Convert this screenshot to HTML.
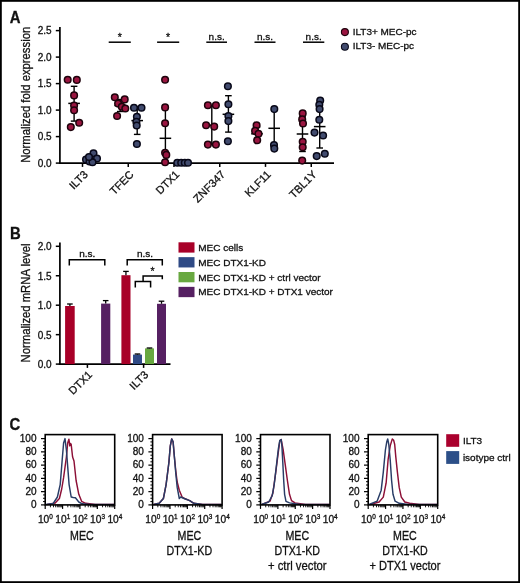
<!DOCTYPE html>
<html><head><meta charset="utf-8"><style>
html,body{margin:0;padding:0;background:#fff;}
svg{display:block;will-change:transform;}
text{font-family:"Liberation Sans", sans-serif;fill:#111;stroke:#111;stroke-width:0.3px;}
</style></head><body>
<svg width="520" height="583" viewBox="0 0 520 583">

<text transform="translate(9.7,22.5) scale(0.93,1)" font-size="16" font-weight="bold">A</text>
<line x1="59.9" y1="27" x2="59.9" y2="163.9" stroke="#000" stroke-width="1.7"/>
<line x1="59" y1="163.1" x2="334" y2="163.1" stroke="#000" stroke-width="1.7"/>
<line x1="55.8" y1="163.10" x2="59.9" y2="163.10" stroke="#000" stroke-width="1.5"/>
<text x="51.6" y="166.90" font-size="10" text-anchor="end">0.0</text>
<line x1="55.8" y1="136.60" x2="59.9" y2="136.60" stroke="#000" stroke-width="1.5"/>
<text x="51.6" y="140.40" font-size="10" text-anchor="end">0.5</text>
<line x1="55.8" y1="110.10" x2="59.9" y2="110.10" stroke="#000" stroke-width="1.5"/>
<text x="51.6" y="113.90" font-size="10" text-anchor="end">1.0</text>
<line x1="55.8" y1="83.60" x2="59.9" y2="83.60" stroke="#000" stroke-width="1.5"/>
<text x="51.6" y="87.40" font-size="10" text-anchor="end">1.5</text>
<line x1="55.8" y1="57.10" x2="59.9" y2="57.10" stroke="#000" stroke-width="1.5"/>
<text x="51.6" y="60.90" font-size="10" text-anchor="end">2.0</text>
<line x1="55.8" y1="30.60" x2="59.9" y2="30.60" stroke="#000" stroke-width="1.5"/>
<text x="51.6" y="34.40" font-size="10" text-anchor="end">2.5</text>
<text transform="translate(29.8,94.8) rotate(-90)" font-size="13" text-anchor="middle" textLength="136" lengthAdjust="spacingAndGlyphs">Normalized fold expression</text>
<line x1="82.50" y1="163.1" x2="82.50" y2="166.90" stroke="#000" stroke-width="1.5"/>
<text transform="translate(88.70,175.10) rotate(-45)" font-size="11" text-anchor="end">ILT3</text>
<line x1="128.25" y1="163.1" x2="128.25" y2="166.90" stroke="#000" stroke-width="1.5"/>
<text transform="translate(134.45,175.10) rotate(-45)" font-size="11" text-anchor="end">TFEC</text>
<line x1="174.00" y1="163.1" x2="174.00" y2="166.90" stroke="#000" stroke-width="1.5"/>
<text transform="translate(180.20,175.10) rotate(-45)" font-size="11" text-anchor="end">DTX1</text>
<line x1="219.75" y1="163.1" x2="219.75" y2="166.90" stroke="#000" stroke-width="1.5"/>
<text transform="translate(225.95,175.10) rotate(-45)" font-size="11" text-anchor="end">ZNF347</text>
<line x1="265.50" y1="163.1" x2="265.50" y2="166.90" stroke="#000" stroke-width="1.5"/>
<text transform="translate(271.70,175.10) rotate(-45)" font-size="11" text-anchor="end">KLF11</text>
<line x1="311.25" y1="163.1" x2="311.25" y2="166.90" stroke="#000" stroke-width="1.5"/>
<text transform="translate(317.45,175.10) rotate(-45)" font-size="11" text-anchor="end">TBL1Y</text>
<line x1="108.7" y1="42.2" x2="130.8" y2="42.2" stroke="#000" stroke-width="1.5"/>
<text x="119.75" y="40.9" font-size="10.5" text-anchor="middle">*</text>
<line x1="157.1" y1="42.2" x2="179.2" y2="42.2" stroke="#000" stroke-width="1.5"/>
<text x="168.15" y="40.9" font-size="10.5" text-anchor="middle">*</text>
<line x1="206.3" y1="42.2" x2="227" y2="42.2" stroke="#000" stroke-width="1.5"/>
<text transform="translate(216.65,39.5) scale(1,0.93)" font-size="10" text-anchor="middle">n.s.</text>
<line x1="254.5" y1="42.2" x2="275.5" y2="42.2" stroke="#000" stroke-width="1.5"/>
<text transform="translate(265.00,39.5) scale(1,0.93)" font-size="10" text-anchor="middle">n.s.</text>
<line x1="303" y1="42.2" x2="324.3" y2="42.2" stroke="#000" stroke-width="1.5"/>
<text transform="translate(313.65,39.5) scale(1,0.93)" font-size="10" text-anchor="middle">n.s.</text>
<line x1="74.1" y1="86.3" x2="74.1" y2="121.1" stroke="#000" stroke-width="1.4"/><line x1="70.8" y1="86.3" x2="77.39999999999999" y2="86.3" stroke="#000" stroke-width="1.4"/><line x1="70.8" y1="121.1" x2="77.39999999999999" y2="121.1" stroke="#000" stroke-width="1.4"/><line x1="68.3" y1="103.4" x2="79.89999999999999" y2="103.4" stroke="#000" stroke-width="1.5"/>
<line x1="91.5" y1="155.5" x2="91.5" y2="161.5" stroke="#000" stroke-width="1.4"/><line x1="88.2" y1="155.5" x2="94.8" y2="155.5" stroke="#000" stroke-width="1.4"/><line x1="88.2" y1="161.5" x2="94.8" y2="161.5" stroke="#000" stroke-width="1.4"/><line x1="85.7" y1="158.5" x2="97.3" y2="158.5" stroke="#000" stroke-width="1.5"/>
<circle cx="67.7" cy="79.8" r="3.3" fill="#9a1540" stroke="#1e030c" stroke-width="1.5"/><circle cx="76.8" cy="79.9" r="3.3" fill="#9a1540" stroke="#1e030c" stroke-width="1.5"/><circle cx="74.1" cy="95.4" r="3.3" fill="#9a1540" stroke="#1e030c" stroke-width="1.5"/><circle cx="74.1" cy="105.5" r="3.3" fill="#9a1540" stroke="#1e030c" stroke-width="1.5"/><circle cx="74.1" cy="110.3" r="3.3" fill="#9a1540" stroke="#1e030c" stroke-width="1.5"/><circle cx="79.2" cy="122.8" r="3.3" fill="#9a1540" stroke="#1e030c" stroke-width="1.5"/><circle cx="70.8" cy="127.1" r="3.3" fill="#9a1540" stroke="#1e030c" stroke-width="1.5"/>
<circle cx="86" cy="159.5" r="3.3" fill="#414b6e" stroke="#080818" stroke-width="1.5"/><circle cx="89.5" cy="161.5" r="3.3" fill="#414b6e" stroke="#080818" stroke-width="1.5"/><circle cx="93.5" cy="153.2" r="3.3" fill="#414b6e" stroke="#080818" stroke-width="1.5"/><circle cx="97" cy="158.5" r="3.3" fill="#414b6e" stroke="#080818" stroke-width="1.5"/><circle cx="92.5" cy="162.2" r="3.3" fill="#414b6e" stroke="#080818" stroke-width="1.5"/><circle cx="89" cy="157" r="3.3" fill="#414b6e" stroke="#080818" stroke-width="1.5"/>
<line x1="120.2" y1="99.5" x2="120.2" y2="111.5" stroke="#000" stroke-width="1.4"/><line x1="116.9" y1="99.5" x2="123.5" y2="99.5" stroke="#000" stroke-width="1.4"/><line x1="116.9" y1="111.5" x2="123.5" y2="111.5" stroke="#000" stroke-width="1.4"/><line x1="114.4" y1="105.5" x2="126.0" y2="105.5" stroke="#000" stroke-width="1.5"/>
<line x1="137.2" y1="106.8" x2="137.2" y2="134.4" stroke="#000" stroke-width="1.4"/><line x1="133.89999999999998" y1="106.8" x2="140.5" y2="106.8" stroke="#000" stroke-width="1.4"/><line x1="133.89999999999998" y1="134.4" x2="140.5" y2="134.4" stroke="#000" stroke-width="1.4"/><line x1="131.39999999999998" y1="120.6" x2="143.0" y2="120.6" stroke="#000" stroke-width="1.5"/>
<circle cx="114.8" cy="97.3" r="3.3" fill="#9a1540" stroke="#1e030c" stroke-width="1.5"/><circle cx="124.7" cy="99.4" r="3.3" fill="#9a1540" stroke="#1e030c" stroke-width="1.5"/><circle cx="118.1" cy="103.6" r="3.3" fill="#9a1540" stroke="#1e030c" stroke-width="1.5"/><circle cx="121.8" cy="106.8" r="3.3" fill="#9a1540" stroke="#1e030c" stroke-width="1.5"/><circle cx="125.3" cy="108.5" r="3.3" fill="#9a1540" stroke="#1e030c" stroke-width="1.5"/><circle cx="117.1" cy="116" r="3.3" fill="#9a1540" stroke="#1e030c" stroke-width="1.5"/>
<circle cx="134" cy="107.7" r="3.3" fill="#414b6e" stroke="#080818" stroke-width="1.5"/><circle cx="141.5" cy="107.7" r="3.3" fill="#414b6e" stroke="#080818" stroke-width="1.5"/><circle cx="136.9" cy="116.7" r="3.3" fill="#414b6e" stroke="#080818" stroke-width="1.5"/><circle cx="136.4" cy="121.9" r="3.3" fill="#414b6e" stroke="#080818" stroke-width="1.5"/><circle cx="136.7" cy="125.5" r="3.3" fill="#414b6e" stroke="#080818" stroke-width="1.5"/><circle cx="136.9" cy="144" r="3.3" fill="#414b6e" stroke="#080818" stroke-width="1.5"/>
<line x1="165.4" y1="107.5" x2="165.4" y2="162.5" stroke="#000" stroke-width="1.4"/><line x1="162.1" y1="107.5" x2="168.70000000000002" y2="107.5" stroke="#000" stroke-width="1.4"/><line x1="162.1" y1="162.5" x2="168.70000000000002" y2="162.5" stroke="#000" stroke-width="1.4"/><line x1="159.6" y1="138.3" x2="171.20000000000002" y2="138.3" stroke="#000" stroke-width="1.5"/>
<line x1="183" y1="162.5" x2="183" y2="163" stroke="#000" stroke-width="1.4"/><line x1="179.7" y1="162.5" x2="186.3" y2="162.5" stroke="#000" stroke-width="1.4"/><line x1="179.7" y1="163" x2="186.3" y2="163" stroke="#000" stroke-width="1.4"/><line x1="177.2" y1="162.7" x2="188.8" y2="162.7" stroke="#000" stroke-width="1.5"/>
<circle cx="165.1" cy="79.8" r="3.3" fill="#9a1540" stroke="#1e030c" stroke-width="1.5"/><circle cx="165.1" cy="107.4" r="3.3" fill="#9a1540" stroke="#1e030c" stroke-width="1.5"/><circle cx="165.1" cy="123.2" r="3.3" fill="#9a1540" stroke="#1e030c" stroke-width="1.5"/><circle cx="165.1" cy="152.7" r="3.3" fill="#9a1540" stroke="#1e030c" stroke-width="1.5"/><circle cx="166.3" cy="154.9" r="3.3" fill="#9a1540" stroke="#1e030c" stroke-width="1.5"/><circle cx="165.1" cy="162.3" r="3.3" fill="#9a1540" stroke="#1e030c" stroke-width="1.5"/>
<circle cx="177.3" cy="162.7" r="3.3" fill="#414b6e" stroke="#080818" stroke-width="1.5"/><circle cx="181.2" cy="162.7" r="3.3" fill="#414b6e" stroke="#080818" stroke-width="1.5"/><circle cx="184.8" cy="162.7" r="3.3" fill="#414b6e" stroke="#080818" stroke-width="1.5"/><circle cx="188" cy="162.7" r="3.3" fill="#414b6e" stroke="#080818" stroke-width="1.5"/>
<line x1="211.8" y1="105.5" x2="211.8" y2="144.5" stroke="#000" stroke-width="1.4"/><line x1="208.5" y1="105.5" x2="215.10000000000002" y2="105.5" stroke="#000" stroke-width="1.4"/><line x1="208.5" y1="144.5" x2="215.10000000000002" y2="144.5" stroke="#000" stroke-width="1.4"/><line x1="206.0" y1="125.2" x2="217.60000000000002" y2="125.2" stroke="#000" stroke-width="1.5"/>
<line x1="228.4" y1="95.7" x2="228.4" y2="132.1" stroke="#000" stroke-width="1.4"/><line x1="225.1" y1="95.7" x2="231.70000000000002" y2="95.7" stroke="#000" stroke-width="1.4"/><line x1="225.1" y1="132.1" x2="231.70000000000002" y2="132.1" stroke="#000" stroke-width="1.4"/><line x1="222.6" y1="114.3" x2="234.20000000000002" y2="114.3" stroke="#000" stroke-width="1.5"/>
<circle cx="207.9" cy="105.2" r="3.3" fill="#9a1540" stroke="#1e030c" stroke-width="1.5"/><circle cx="215.9" cy="105.2" r="3.3" fill="#9a1540" stroke="#1e030c" stroke-width="1.5"/><circle cx="206.1" cy="125.2" r="3.3" fill="#9a1540" stroke="#1e030c" stroke-width="1.5"/><circle cx="214.2" cy="126.6" r="3.3" fill="#9a1540" stroke="#1e030c" stroke-width="1.5"/><circle cx="207.9" cy="144.6" r="3.3" fill="#9a1540" stroke="#1e030c" stroke-width="1.5"/><circle cx="215.9" cy="144.6" r="3.3" fill="#9a1540" stroke="#1e030c" stroke-width="1.5"/>
<circle cx="227.9" cy="86.3" r="3.3" fill="#414b6e" stroke="#080818" stroke-width="1.5"/><circle cx="228.4" cy="104.3" r="3.3" fill="#414b6e" stroke="#080818" stroke-width="1.5"/><circle cx="228.4" cy="116" r="3.3" fill="#414b6e" stroke="#080818" stroke-width="1.5"/><circle cx="228.4" cy="121.1" r="3.3" fill="#414b6e" stroke="#080818" stroke-width="1.5"/><circle cx="227.9" cy="141.2" r="3.3" fill="#414b6e" stroke="#080818" stroke-width="1.5"/>
<line x1="257" y1="127" x2="257" y2="140" stroke="#000" stroke-width="1.4"/><line x1="253.7" y1="127" x2="260.3" y2="127" stroke="#000" stroke-width="1.4"/><line x1="253.7" y1="140" x2="260.3" y2="140" stroke="#000" stroke-width="1.4"/><line x1="251.2" y1="133.8" x2="262.8" y2="133.8" stroke="#000" stroke-width="1.5"/>
<line x1="274.2" y1="109.1" x2="274.2" y2="147" stroke="#000" stroke-width="1.4"/><line x1="270.9" y1="109.1" x2="277.5" y2="109.1" stroke="#000" stroke-width="1.4"/><line x1="270.9" y1="147" x2="277.5" y2="147" stroke="#000" stroke-width="1.4"/><line x1="268.4" y1="128.3" x2="280.0" y2="128.3" stroke="#000" stroke-width="1.5"/>
<circle cx="256.6" cy="125.2" r="3.3" fill="#9a1540" stroke="#1e030c" stroke-width="1.5"/><circle cx="255.1" cy="130.9" r="3.3" fill="#9a1540" stroke="#1e030c" stroke-width="1.5"/><circle cx="258.5" cy="133.8" r="3.3" fill="#9a1540" stroke="#1e030c" stroke-width="1.5"/><circle cx="257.2" cy="140.3" r="3.3" fill="#9a1540" stroke="#1e030c" stroke-width="1.5"/>
<circle cx="274.3" cy="109.1" r="3.3" fill="#414b6e" stroke="#080818" stroke-width="1.5"/><circle cx="274" cy="145" r="3.3" fill="#414b6e" stroke="#080818" stroke-width="1.5"/><circle cx="274.3" cy="148.6" r="3.3" fill="#414b6e" stroke="#080818" stroke-width="1.5"/>
<line x1="302.5" y1="116.5" x2="302.5" y2="151.5" stroke="#000" stroke-width="1.4"/><line x1="299.2" y1="116.5" x2="305.8" y2="116.5" stroke="#000" stroke-width="1.4"/><line x1="299.2" y1="151.5" x2="305.8" y2="151.5" stroke="#000" stroke-width="1.4"/><line x1="296.7" y1="134" x2="308.3" y2="134" stroke="#000" stroke-width="1.5"/>
<line x1="319.7" y1="105" x2="319.7" y2="148" stroke="#000" stroke-width="1.4"/><line x1="316.4" y1="105" x2="323.0" y2="105" stroke="#000" stroke-width="1.4"/><line x1="316.4" y1="148" x2="323.0" y2="148" stroke="#000" stroke-width="1.4"/><line x1="313.9" y1="126.6" x2="325.5" y2="126.6" stroke="#000" stroke-width="1.5"/>
<circle cx="302.7" cy="113.4" r="3.3" fill="#9a1540" stroke="#1e030c" stroke-width="1.5"/><circle cx="302.2" cy="119.4" r="3.3" fill="#9a1540" stroke="#1e030c" stroke-width="1.5"/><circle cx="303" cy="123.5" r="3.3" fill="#9a1540" stroke="#1e030c" stroke-width="1.5"/><circle cx="302.7" cy="141.7" r="3.3" fill="#9a1540" stroke="#1e030c" stroke-width="1.5"/><circle cx="302.7" cy="147.2" r="3.3" fill="#9a1540" stroke="#1e030c" stroke-width="1.5"/><circle cx="302.2" cy="160.6" r="3.3" fill="#9a1540" stroke="#1e030c" stroke-width="1.5"/>
<circle cx="320.2" cy="100.5" r="3.3" fill="#414b6e" stroke="#080818" stroke-width="1.5"/><circle cx="319.3" cy="104.8" r="3.3" fill="#414b6e" stroke="#080818" stroke-width="1.5"/><circle cx="319.6" cy="109.1" r="3.3" fill="#414b6e" stroke="#080818" stroke-width="1.5"/><circle cx="319.3" cy="119.7" r="3.3" fill="#414b6e" stroke="#080818" stroke-width="1.5"/><circle cx="314.5" cy="132.6" r="3.3" fill="#414b6e" stroke="#080818" stroke-width="1.5"/><circle cx="323.1" cy="135.5" r="3.3" fill="#414b6e" stroke="#080818" stroke-width="1.5"/><circle cx="316.7" cy="156.1" r="3.3" fill="#414b6e" stroke="#080818" stroke-width="1.5"/><circle cx="324.8" cy="153.7" r="3.3" fill="#414b6e" stroke="#080818" stroke-width="1.5"/>
<circle cx="344.9" cy="32.1" r="3.5" fill="#9a1540" stroke="#1e030c" stroke-width="1.1"/>
<circle cx="344.9" cy="46.8" r="3.5" fill="#414b6e" stroke="#080818" stroke-width="1.1"/>
<text transform="translate(352.7,34.9) scale(1,0.93)" font-size="10">ILT3+ MEC-pc</text>
<text transform="translate(352.7,49.1) scale(1,0.93)" font-size="10">ILT3- MEC-pc</text>
<text transform="translate(9.9,238.5) scale(0.93,1)" font-size="16" font-weight="bold">B</text>
<line x1="59.9" y1="242.6" x2="59.9" y2="364.90000000000003" stroke="#000" stroke-width="1.7"/>
<line x1="58.8" y1="364.1" x2="170.5" y2="364.1" stroke="#000" stroke-width="1.7"/>
<line x1="55.8" y1="364.10" x2="59.9" y2="364.10" stroke="#000" stroke-width="1.5"/>
<text x="51.6" y="368.20" font-size="10" text-anchor="end">0.0</text>
<line x1="55.8" y1="334.65" x2="59.9" y2="334.65" stroke="#000" stroke-width="1.5"/>
<text x="51.6" y="338.75" font-size="10" text-anchor="end">0.5</text>
<line x1="55.8" y1="305.20" x2="59.9" y2="305.20" stroke="#000" stroke-width="1.5"/>
<text x="51.6" y="309.30" font-size="10" text-anchor="end">1.0</text>
<line x1="55.8" y1="275.75" x2="59.9" y2="275.75" stroke="#000" stroke-width="1.5"/>
<text x="51.6" y="279.85" font-size="10" text-anchor="end">1.5</text>
<line x1="55.8" y1="246.30" x2="59.9" y2="246.30" stroke="#000" stroke-width="1.5"/>
<text x="51.6" y="250.40" font-size="10" text-anchor="end">2.0</text>
<text transform="translate(29.9,302.9) rotate(-90)" font-size="13" text-anchor="middle" textLength="119" lengthAdjust="spacingAndGlyphs">Normalized mRNA level</text>
<line x1="87.4" y1="364.1" x2="87.4" y2="367.90" stroke="#000" stroke-width="1.5"/>
<text transform="translate(92.90,375.40) rotate(-45)" font-size="11" text-anchor="end">DTX1</text>
<line x1="143.6" y1="364.1" x2="143.6" y2="367.90" stroke="#000" stroke-width="1.5"/>
<text transform="translate(149.10,375.40) rotate(-45)" font-size="11" text-anchor="end">ILT3</text>
<rect x="65.1" y="306" width="9.600000000000009" height="58.10000000000002" fill="#a80028"/><line x1="69.9" y1="304.0" x2="69.9" y2="306" stroke="#000" stroke-width="1.3"/><line x1="67.10000000000001" y1="304.0" x2="72.7" y2="304.0" stroke="#000" stroke-width="1.3"/>
<rect x="101.1" y="303.6" width="9.200000000000003" height="60.5" fill="#562062"/><line x1="105.69999999999999" y1="300.6" x2="105.69999999999999" y2="303.6" stroke="#000" stroke-width="1.3"/><line x1="102.89999999999999" y1="300.6" x2="108.49999999999999" y2="300.6" stroke="#000" stroke-width="1.3"/>
<rect x="121.4" y="275.2" width="9.099999999999994" height="88.90000000000003" fill="#a80028"/><line x1="125.95" y1="271.4" x2="125.95" y2="275.2" stroke="#000" stroke-width="1.3"/><line x1="123.15" y1="271.4" x2="128.75" y2="271.4" stroke="#000" stroke-width="1.3"/>
<rect x="133" y="354.6" width="9" height="9.5" fill="#2f4a85"/><line x1="137.5" y1="354" x2="137.5" y2="354.6" stroke="#000" stroke-width="1.3"/><line x1="134.7" y1="354" x2="140.3" y2="354" stroke="#000" stroke-width="1.3"/>
<rect x="145" y="348.4" width="9" height="15.700000000000045" fill="#68a840"/><line x1="149.5" y1="348" x2="149.5" y2="348.4" stroke="#000" stroke-width="1.3"/><line x1="146.7" y1="348" x2="152.3" y2="348" stroke="#000" stroke-width="1.3"/>
<rect x="157" y="303.8" width="9" height="60.30000000000001" fill="#562062"/><line x1="161.5" y1="301.2" x2="161.5" y2="303.8" stroke="#000" stroke-width="1.3"/><line x1="158.7" y1="301.2" x2="164.3" y2="301.2" stroke="#000" stroke-width="1.3"/>
<path d="M69.3 265.4 V259.8 H104.8 V265.4" fill="none" stroke="#000" stroke-width="1.5"/>
<path d="M127.2 265.4 V259.8 H162.3 V265.4" fill="none" stroke="#000" stroke-width="1.5"/>
<text transform="translate(87.2,256.8) scale(1,0.93)" font-size="10" text-anchor="middle">n.s.</text>
<text transform="translate(145,256.8) scale(1,0.93)" font-size="10" text-anchor="middle">n.s.</text>
<path d="M135.3 287.4 V281.6 H150.6 V287.4" fill="none" stroke="#000" stroke-width="1.5"/>
<path d="M143.1 281.6 V276.1 H162.3 V279.2" fill="none" stroke="#000" stroke-width="1.5"/>
<text x="152.5" y="274.8" font-size="10.5" text-anchor="middle">*</text>
<rect x="178.5" y="242.30" width="16" height="10.3" fill="#a80028"/>
<text transform="translate(198.3,250.80) scale(1,0.92)" font-size="10">MEC cells</text>
<rect x="178.5" y="257.15" width="16" height="10.3" fill="#2f4a85"/>
<text transform="translate(198.3,265.65) scale(1,0.92)" font-size="10">MEC DTX1-KD</text>
<rect x="178.5" y="272.00" width="16" height="10.3" fill="#68a840"/>
<text transform="translate(198.3,280.50) scale(1,0.92)" font-size="10">MEC DTX1-KD + ctrl vector</text>
<rect x="178.5" y="286.85" width="16" height="10.3" fill="#562062"/>
<text transform="translate(198.3,295.35) scale(1,0.92)" font-size="10">MEC DTX1-KD + DTX1 vector</text>
<text transform="translate(9.5,430.2) scale(0.93,1)" font-size="16" font-weight="bold">C</text>
<polyline points="47.20,504.50 55.20,503.00 59.40,498.50 61.70,489.00 63.60,477.70 66.40,457.00 67.70,443.00 68.90,439.20 69.80,445.90 70.50,443.50 71.20,444.50 72.60,457.00 74.00,461.00 76.10,480.50 78.80,494.30 81.60,501.30 85.70,503.30 95.20,504.50 114.20,504.50" fill="none" stroke="#8c0f36" stroke-width="1.45" stroke-linejoin="round"/>
<polyline points="45.70,504.50 53.20,503.50 57.40,497.00 60.20,484.60 62.20,459.70 63.60,443.00 65.00,438.60 66.40,450.00 67.70,466.60 69.10,484.60 71.20,497.00 73.20,497.50 75.40,497.80 78.80,502.00 82.20,503.80 90.20,504.50 114.20,504.50" fill="none" stroke="#283c66" stroke-width="1.45" stroke-linejoin="round"/>
<rect x="45.2" y="434.6" width="69.5" height="70.29999999999995" fill="none" stroke="#000" stroke-width="1.6"/>
<line x1="41.0" y1="504.90" x2="45.2" y2="504.90" stroke="#000" stroke-width="1.2"/>
<text x="36.50" y="508.10" font-size="10" text-anchor="end">0</text>
<line x1="43.0" y1="501.58" x2="45.2" y2="501.58" stroke="#000" stroke-width="1"/>
<line x1="43.0" y1="498.27" x2="45.2" y2="498.27" stroke="#000" stroke-width="1"/>
<line x1="43.0" y1="494.95" x2="45.2" y2="494.95" stroke="#000" stroke-width="1"/>
<line x1="41.0" y1="491.64" x2="45.2" y2="491.64" stroke="#000" stroke-width="1.2"/>
<text x="36.50" y="494.84" font-size="10" text-anchor="end">20</text>
<line x1="43.0" y1="488.32" x2="45.2" y2="488.32" stroke="#000" stroke-width="1"/>
<line x1="43.0" y1="485.01" x2="45.2" y2="485.01" stroke="#000" stroke-width="1"/>
<line x1="43.0" y1="481.69" x2="45.2" y2="481.69" stroke="#000" stroke-width="1"/>
<line x1="41.0" y1="478.38" x2="45.2" y2="478.38" stroke="#000" stroke-width="1.2"/>
<text x="36.50" y="481.58" font-size="10" text-anchor="end">40</text>
<line x1="43.0" y1="475.06" x2="45.2" y2="475.06" stroke="#000" stroke-width="1"/>
<line x1="43.0" y1="471.75" x2="45.2" y2="471.75" stroke="#000" stroke-width="1"/>
<line x1="43.0" y1="468.44" x2="45.2" y2="468.44" stroke="#000" stroke-width="1"/>
<line x1="41.0" y1="465.12" x2="45.2" y2="465.12" stroke="#000" stroke-width="1.2"/>
<text x="36.50" y="468.32" font-size="10" text-anchor="end">60</text>
<line x1="43.0" y1="461.81" x2="45.2" y2="461.81" stroke="#000" stroke-width="1"/>
<line x1="43.0" y1="458.49" x2="45.2" y2="458.49" stroke="#000" stroke-width="1"/>
<line x1="43.0" y1="455.18" x2="45.2" y2="455.18" stroke="#000" stroke-width="1"/>
<line x1="41.0" y1="451.86" x2="45.2" y2="451.86" stroke="#000" stroke-width="1.2"/>
<text x="36.50" y="455.06" font-size="10" text-anchor="end">80</text>
<line x1="43.0" y1="448.55" x2="45.2" y2="448.55" stroke="#000" stroke-width="1"/>
<line x1="43.0" y1="445.23" x2="45.2" y2="445.23" stroke="#000" stroke-width="1"/>
<line x1="43.0" y1="441.92" x2="45.2" y2="441.92" stroke="#000" stroke-width="1"/>
<line x1="41.0" y1="438.60" x2="45.2" y2="438.60" stroke="#000" stroke-width="1.2"/>
<text x="36.50" y="441.80" font-size="10" text-anchor="end">100</text>
<line x1="45.20" y1="504.9" x2="45.20" y2="508.9" stroke="#000" stroke-width="1.2"/>
<line x1="50.43" y1="504.9" x2="50.43" y2="507.29999999999995" stroke="#000" stroke-width="0.9"/>
<line x1="53.49" y1="504.9" x2="53.49" y2="507.29999999999995" stroke="#000" stroke-width="0.9"/>
<line x1="55.66" y1="504.9" x2="55.66" y2="507.29999999999995" stroke="#000" stroke-width="0.9"/>
<line x1="57.34" y1="504.9" x2="57.34" y2="507.29999999999995" stroke="#000" stroke-width="0.9"/>
<line x1="58.72" y1="504.9" x2="58.72" y2="507.29999999999995" stroke="#000" stroke-width="0.9"/>
<line x1="59.88" y1="504.9" x2="59.88" y2="507.29999999999995" stroke="#000" stroke-width="0.9"/>
<line x1="60.89" y1="504.9" x2="60.89" y2="507.29999999999995" stroke="#000" stroke-width="0.9"/>
<line x1="61.78" y1="504.9" x2="61.78" y2="507.29999999999995" stroke="#000" stroke-width="0.9"/>
<line x1="62.58" y1="504.9" x2="62.58" y2="508.9" stroke="#000" stroke-width="1.2"/>
<line x1="67.81" y1="504.9" x2="67.81" y2="507.29999999999995" stroke="#000" stroke-width="0.9"/>
<line x1="70.86" y1="504.9" x2="70.86" y2="507.29999999999995" stroke="#000" stroke-width="0.9"/>
<line x1="73.04" y1="504.9" x2="73.04" y2="507.29999999999995" stroke="#000" stroke-width="0.9"/>
<line x1="74.72" y1="504.9" x2="74.72" y2="507.29999999999995" stroke="#000" stroke-width="0.9"/>
<line x1="76.10" y1="504.9" x2="76.10" y2="507.29999999999995" stroke="#000" stroke-width="0.9"/>
<line x1="77.26" y1="504.9" x2="77.26" y2="507.29999999999995" stroke="#000" stroke-width="0.9"/>
<line x1="78.27" y1="504.9" x2="78.27" y2="507.29999999999995" stroke="#000" stroke-width="0.9"/>
<line x1="79.15" y1="504.9" x2="79.15" y2="507.29999999999995" stroke="#000" stroke-width="0.9"/>
<line x1="79.95" y1="504.9" x2="79.95" y2="508.9" stroke="#000" stroke-width="1.2"/>
<line x1="85.18" y1="504.9" x2="85.18" y2="507.29999999999995" stroke="#000" stroke-width="0.9"/>
<line x1="88.24" y1="504.9" x2="88.24" y2="507.29999999999995" stroke="#000" stroke-width="0.9"/>
<line x1="90.41" y1="504.9" x2="90.41" y2="507.29999999999995" stroke="#000" stroke-width="0.9"/>
<line x1="92.09" y1="504.9" x2="92.09" y2="507.29999999999995" stroke="#000" stroke-width="0.9"/>
<line x1="93.47" y1="504.9" x2="93.47" y2="507.29999999999995" stroke="#000" stroke-width="0.9"/>
<line x1="94.63" y1="504.9" x2="94.63" y2="507.29999999999995" stroke="#000" stroke-width="0.9"/>
<line x1="95.64" y1="504.9" x2="95.64" y2="507.29999999999995" stroke="#000" stroke-width="0.9"/>
<line x1="96.53" y1="504.9" x2="96.53" y2="507.29999999999995" stroke="#000" stroke-width="0.9"/>
<line x1="97.33" y1="504.9" x2="97.33" y2="508.9" stroke="#000" stroke-width="1.2"/>
<line x1="102.56" y1="504.9" x2="102.56" y2="507.29999999999995" stroke="#000" stroke-width="0.9"/>
<line x1="105.61" y1="504.9" x2="105.61" y2="507.29999999999995" stroke="#000" stroke-width="0.9"/>
<line x1="107.79" y1="504.9" x2="107.79" y2="507.29999999999995" stroke="#000" stroke-width="0.9"/>
<line x1="109.47" y1="504.9" x2="109.47" y2="507.29999999999995" stroke="#000" stroke-width="0.9"/>
<line x1="110.85" y1="504.9" x2="110.85" y2="507.29999999999995" stroke="#000" stroke-width="0.9"/>
<line x1="112.01" y1="504.9" x2="112.01" y2="507.29999999999995" stroke="#000" stroke-width="0.9"/>
<line x1="113.02" y1="504.9" x2="113.02" y2="507.29999999999995" stroke="#000" stroke-width="0.9"/>
<line x1="113.90" y1="504.9" x2="113.90" y2="507.29999999999995" stroke="#000" stroke-width="0.9"/>
<line x1="114.70" y1="504.9" x2="114.70" y2="508.9" stroke="#000" stroke-width="1.2"/>
<text x="45.40" y="522.8" font-size="10.2" text-anchor="middle">10<tspan font-size="6.4" dy="-4.2">0</tspan></text>
<text x="62.78" y="522.8" font-size="10.2" text-anchor="middle">10<tspan font-size="6.4" dy="-4.2">1</tspan></text>
<text x="80.15" y="522.8" font-size="10.2" text-anchor="middle">10<tspan font-size="6.4" dy="-4.2">2</tspan></text>
<text x="97.53" y="522.8" font-size="10.2" text-anchor="middle">10<tspan font-size="6.4" dy="-4.2">3</tspan></text>
<text x="114.90" y="522.8" font-size="10.2" text-anchor="middle">10<tspan font-size="6.4" dy="-4.2">4</tspan></text>
<polyline points="153.60,504.50 159.20,503.30 163.40,498.50 166.10,484.60 168.90,462.50 170.30,445.90 171.70,438.90 173.10,441.70 174.40,457.00 175.80,471.00 177.20,482.00 179.30,490.20 182.10,497.10 184.60,498.50 189.70,500.60 193.80,503.30 202.60,504.50 221.60,504.50" fill="none" stroke="#8c0f36" stroke-width="1.45" stroke-linejoin="round"/>
<polyline points="153.60,504.50 159.20,503.30 163.40,498.50 166.10,484.60 168.90,462.50 170.30,445.90 171.70,438.90 173.10,441.70 174.40,457.00 175.80,473.50 177.20,487.40 179.30,498.50 180.70,497.00 184.10,498.50 189.70,500.60 193.80,503.30 202.60,504.50 221.60,504.50" fill="none" stroke="#283c66" stroke-width="1.45" stroke-linejoin="round"/>
<rect x="152.6" y="434.6" width="69.5" height="70.29999999999995" fill="none" stroke="#000" stroke-width="1.6"/>
<line x1="148.4" y1="504.90" x2="152.6" y2="504.90" stroke="#000" stroke-width="1.2"/>
<text x="143.90" y="508.10" font-size="10" text-anchor="end">0</text>
<line x1="150.4" y1="501.58" x2="152.6" y2="501.58" stroke="#000" stroke-width="1"/>
<line x1="150.4" y1="498.27" x2="152.6" y2="498.27" stroke="#000" stroke-width="1"/>
<line x1="150.4" y1="494.95" x2="152.6" y2="494.95" stroke="#000" stroke-width="1"/>
<line x1="148.4" y1="491.64" x2="152.6" y2="491.64" stroke="#000" stroke-width="1.2"/>
<text x="143.90" y="494.84" font-size="10" text-anchor="end">20</text>
<line x1="150.4" y1="488.32" x2="152.6" y2="488.32" stroke="#000" stroke-width="1"/>
<line x1="150.4" y1="485.01" x2="152.6" y2="485.01" stroke="#000" stroke-width="1"/>
<line x1="150.4" y1="481.69" x2="152.6" y2="481.69" stroke="#000" stroke-width="1"/>
<line x1="148.4" y1="478.38" x2="152.6" y2="478.38" stroke="#000" stroke-width="1.2"/>
<text x="143.90" y="481.58" font-size="10" text-anchor="end">40</text>
<line x1="150.4" y1="475.06" x2="152.6" y2="475.06" stroke="#000" stroke-width="1"/>
<line x1="150.4" y1="471.75" x2="152.6" y2="471.75" stroke="#000" stroke-width="1"/>
<line x1="150.4" y1="468.44" x2="152.6" y2="468.44" stroke="#000" stroke-width="1"/>
<line x1="148.4" y1="465.12" x2="152.6" y2="465.12" stroke="#000" stroke-width="1.2"/>
<text x="143.90" y="468.32" font-size="10" text-anchor="end">60</text>
<line x1="150.4" y1="461.81" x2="152.6" y2="461.81" stroke="#000" stroke-width="1"/>
<line x1="150.4" y1="458.49" x2="152.6" y2="458.49" stroke="#000" stroke-width="1"/>
<line x1="150.4" y1="455.18" x2="152.6" y2="455.18" stroke="#000" stroke-width="1"/>
<line x1="148.4" y1="451.86" x2="152.6" y2="451.86" stroke="#000" stroke-width="1.2"/>
<text x="143.90" y="455.06" font-size="10" text-anchor="end">80</text>
<line x1="150.4" y1="448.55" x2="152.6" y2="448.55" stroke="#000" stroke-width="1"/>
<line x1="150.4" y1="445.23" x2="152.6" y2="445.23" stroke="#000" stroke-width="1"/>
<line x1="150.4" y1="441.92" x2="152.6" y2="441.92" stroke="#000" stroke-width="1"/>
<line x1="148.4" y1="438.60" x2="152.6" y2="438.60" stroke="#000" stroke-width="1.2"/>
<text x="143.90" y="441.80" font-size="10" text-anchor="end">100</text>
<line x1="152.60" y1="504.9" x2="152.60" y2="508.9" stroke="#000" stroke-width="1.2"/>
<line x1="157.83" y1="504.9" x2="157.83" y2="507.29999999999995" stroke="#000" stroke-width="0.9"/>
<line x1="160.89" y1="504.9" x2="160.89" y2="507.29999999999995" stroke="#000" stroke-width="0.9"/>
<line x1="163.06" y1="504.9" x2="163.06" y2="507.29999999999995" stroke="#000" stroke-width="0.9"/>
<line x1="164.74" y1="504.9" x2="164.74" y2="507.29999999999995" stroke="#000" stroke-width="0.9"/>
<line x1="166.12" y1="504.9" x2="166.12" y2="507.29999999999995" stroke="#000" stroke-width="0.9"/>
<line x1="167.28" y1="504.9" x2="167.28" y2="507.29999999999995" stroke="#000" stroke-width="0.9"/>
<line x1="168.29" y1="504.9" x2="168.29" y2="507.29999999999995" stroke="#000" stroke-width="0.9"/>
<line x1="169.18" y1="504.9" x2="169.18" y2="507.29999999999995" stroke="#000" stroke-width="0.9"/>
<line x1="169.97" y1="504.9" x2="169.97" y2="508.9" stroke="#000" stroke-width="1.2"/>
<line x1="175.21" y1="504.9" x2="175.21" y2="507.29999999999995" stroke="#000" stroke-width="0.9"/>
<line x1="178.26" y1="504.9" x2="178.26" y2="507.29999999999995" stroke="#000" stroke-width="0.9"/>
<line x1="180.44" y1="504.9" x2="180.44" y2="507.29999999999995" stroke="#000" stroke-width="0.9"/>
<line x1="182.12" y1="504.9" x2="182.12" y2="507.29999999999995" stroke="#000" stroke-width="0.9"/>
<line x1="183.50" y1="504.9" x2="183.50" y2="507.29999999999995" stroke="#000" stroke-width="0.9"/>
<line x1="184.66" y1="504.9" x2="184.66" y2="507.29999999999995" stroke="#000" stroke-width="0.9"/>
<line x1="185.67" y1="504.9" x2="185.67" y2="507.29999999999995" stroke="#000" stroke-width="0.9"/>
<line x1="186.55" y1="504.9" x2="186.55" y2="507.29999999999995" stroke="#000" stroke-width="0.9"/>
<line x1="187.35" y1="504.9" x2="187.35" y2="508.9" stroke="#000" stroke-width="1.2"/>
<line x1="192.58" y1="504.9" x2="192.58" y2="507.29999999999995" stroke="#000" stroke-width="0.9"/>
<line x1="195.64" y1="504.9" x2="195.64" y2="507.29999999999995" stroke="#000" stroke-width="0.9"/>
<line x1="197.81" y1="504.9" x2="197.81" y2="507.29999999999995" stroke="#000" stroke-width="0.9"/>
<line x1="199.49" y1="504.9" x2="199.49" y2="507.29999999999995" stroke="#000" stroke-width="0.9"/>
<line x1="200.87" y1="504.9" x2="200.87" y2="507.29999999999995" stroke="#000" stroke-width="0.9"/>
<line x1="202.03" y1="504.9" x2="202.03" y2="507.29999999999995" stroke="#000" stroke-width="0.9"/>
<line x1="203.04" y1="504.9" x2="203.04" y2="507.29999999999995" stroke="#000" stroke-width="0.9"/>
<line x1="203.93" y1="504.9" x2="203.93" y2="507.29999999999995" stroke="#000" stroke-width="0.9"/>
<line x1="204.72" y1="504.9" x2="204.72" y2="508.9" stroke="#000" stroke-width="1.2"/>
<line x1="209.96" y1="504.9" x2="209.96" y2="507.29999999999995" stroke="#000" stroke-width="0.9"/>
<line x1="213.01" y1="504.9" x2="213.01" y2="507.29999999999995" stroke="#000" stroke-width="0.9"/>
<line x1="215.19" y1="504.9" x2="215.19" y2="507.29999999999995" stroke="#000" stroke-width="0.9"/>
<line x1="216.87" y1="504.9" x2="216.87" y2="507.29999999999995" stroke="#000" stroke-width="0.9"/>
<line x1="218.25" y1="504.9" x2="218.25" y2="507.29999999999995" stroke="#000" stroke-width="0.9"/>
<line x1="219.41" y1="504.9" x2="219.41" y2="507.29999999999995" stroke="#000" stroke-width="0.9"/>
<line x1="220.42" y1="504.9" x2="220.42" y2="507.29999999999995" stroke="#000" stroke-width="0.9"/>
<line x1="221.30" y1="504.9" x2="221.30" y2="507.29999999999995" stroke="#000" stroke-width="0.9"/>
<line x1="222.10" y1="504.9" x2="222.10" y2="508.9" stroke="#000" stroke-width="1.2"/>
<text x="152.80" y="522.8" font-size="10.2" text-anchor="middle">10<tspan font-size="6.4" dy="-4.2">0</tspan></text>
<text x="170.17" y="522.8" font-size="10.2" text-anchor="middle">10<tspan font-size="6.4" dy="-4.2">1</tspan></text>
<text x="187.55" y="522.8" font-size="10.2" text-anchor="middle">10<tspan font-size="6.4" dy="-4.2">2</tspan></text>
<text x="204.92" y="522.8" font-size="10.2" text-anchor="middle">10<tspan font-size="6.4" dy="-4.2">3</tspan></text>
<text x="222.30" y="522.8" font-size="10.2" text-anchor="middle">10<tspan font-size="6.4" dy="-4.2">4</tspan></text>
<polyline points="262.00,504.50 270.00,501.20 272.90,493.00 275.60,473.50 277.70,457.00 279.80,441.00 281.20,439.60 283.20,450.00 285.30,465.20 287.40,480.50 289.50,494.30 291.50,500.60 295.00,502.90 305.50,504.50 329.50,504.50" fill="none" stroke="#8c0f36" stroke-width="1.45" stroke-linejoin="round"/>
<polyline points="261.50,504.50 268.70,502.00 272.20,495.70 274.20,484.60 276.30,466.60 278.40,448.60 279.80,440.30 281.20,439.60 281.90,445.90 282.80,462.50 283.70,480.50 284.60,494.30 286.00,501.30 289.50,502.90 300.50,504.50 329.50,504.50" fill="none" stroke="#283c66" stroke-width="1.45" stroke-linejoin="round"/>
<rect x="260.5" y="434.6" width="69.5" height="70.29999999999995" fill="none" stroke="#000" stroke-width="1.6"/>
<line x1="256.3" y1="504.90" x2="260.5" y2="504.90" stroke="#000" stroke-width="1.2"/>
<text x="251.80" y="508.10" font-size="10" text-anchor="end">0</text>
<line x1="258.3" y1="501.58" x2="260.5" y2="501.58" stroke="#000" stroke-width="1"/>
<line x1="258.3" y1="498.27" x2="260.5" y2="498.27" stroke="#000" stroke-width="1"/>
<line x1="258.3" y1="494.95" x2="260.5" y2="494.95" stroke="#000" stroke-width="1"/>
<line x1="256.3" y1="491.64" x2="260.5" y2="491.64" stroke="#000" stroke-width="1.2"/>
<text x="251.80" y="494.84" font-size="10" text-anchor="end">20</text>
<line x1="258.3" y1="488.32" x2="260.5" y2="488.32" stroke="#000" stroke-width="1"/>
<line x1="258.3" y1="485.01" x2="260.5" y2="485.01" stroke="#000" stroke-width="1"/>
<line x1="258.3" y1="481.69" x2="260.5" y2="481.69" stroke="#000" stroke-width="1"/>
<line x1="256.3" y1="478.38" x2="260.5" y2="478.38" stroke="#000" stroke-width="1.2"/>
<text x="251.80" y="481.58" font-size="10" text-anchor="end">40</text>
<line x1="258.3" y1="475.06" x2="260.5" y2="475.06" stroke="#000" stroke-width="1"/>
<line x1="258.3" y1="471.75" x2="260.5" y2="471.75" stroke="#000" stroke-width="1"/>
<line x1="258.3" y1="468.44" x2="260.5" y2="468.44" stroke="#000" stroke-width="1"/>
<line x1="256.3" y1="465.12" x2="260.5" y2="465.12" stroke="#000" stroke-width="1.2"/>
<text x="251.80" y="468.32" font-size="10" text-anchor="end">60</text>
<line x1="258.3" y1="461.81" x2="260.5" y2="461.81" stroke="#000" stroke-width="1"/>
<line x1="258.3" y1="458.49" x2="260.5" y2="458.49" stroke="#000" stroke-width="1"/>
<line x1="258.3" y1="455.18" x2="260.5" y2="455.18" stroke="#000" stroke-width="1"/>
<line x1="256.3" y1="451.86" x2="260.5" y2="451.86" stroke="#000" stroke-width="1.2"/>
<text x="251.80" y="455.06" font-size="10" text-anchor="end">80</text>
<line x1="258.3" y1="448.55" x2="260.5" y2="448.55" stroke="#000" stroke-width="1"/>
<line x1="258.3" y1="445.23" x2="260.5" y2="445.23" stroke="#000" stroke-width="1"/>
<line x1="258.3" y1="441.92" x2="260.5" y2="441.92" stroke="#000" stroke-width="1"/>
<line x1="256.3" y1="438.60" x2="260.5" y2="438.60" stroke="#000" stroke-width="1.2"/>
<text x="251.80" y="441.80" font-size="10" text-anchor="end">100</text>
<line x1="260.50" y1="504.9" x2="260.50" y2="508.9" stroke="#000" stroke-width="1.2"/>
<line x1="265.73" y1="504.9" x2="265.73" y2="507.29999999999995" stroke="#000" stroke-width="0.9"/>
<line x1="268.79" y1="504.9" x2="268.79" y2="507.29999999999995" stroke="#000" stroke-width="0.9"/>
<line x1="270.96" y1="504.9" x2="270.96" y2="507.29999999999995" stroke="#000" stroke-width="0.9"/>
<line x1="272.64" y1="504.9" x2="272.64" y2="507.29999999999995" stroke="#000" stroke-width="0.9"/>
<line x1="274.02" y1="504.9" x2="274.02" y2="507.29999999999995" stroke="#000" stroke-width="0.9"/>
<line x1="275.18" y1="504.9" x2="275.18" y2="507.29999999999995" stroke="#000" stroke-width="0.9"/>
<line x1="276.19" y1="504.9" x2="276.19" y2="507.29999999999995" stroke="#000" stroke-width="0.9"/>
<line x1="277.08" y1="504.9" x2="277.08" y2="507.29999999999995" stroke="#000" stroke-width="0.9"/>
<line x1="277.88" y1="504.9" x2="277.88" y2="508.9" stroke="#000" stroke-width="1.2"/>
<line x1="283.11" y1="504.9" x2="283.11" y2="507.29999999999995" stroke="#000" stroke-width="0.9"/>
<line x1="286.16" y1="504.9" x2="286.16" y2="507.29999999999995" stroke="#000" stroke-width="0.9"/>
<line x1="288.34" y1="504.9" x2="288.34" y2="507.29999999999995" stroke="#000" stroke-width="0.9"/>
<line x1="290.02" y1="504.9" x2="290.02" y2="507.29999999999995" stroke="#000" stroke-width="0.9"/>
<line x1="291.40" y1="504.9" x2="291.40" y2="507.29999999999995" stroke="#000" stroke-width="0.9"/>
<line x1="292.56" y1="504.9" x2="292.56" y2="507.29999999999995" stroke="#000" stroke-width="0.9"/>
<line x1="293.57" y1="504.9" x2="293.57" y2="507.29999999999995" stroke="#000" stroke-width="0.9"/>
<line x1="294.45" y1="504.9" x2="294.45" y2="507.29999999999995" stroke="#000" stroke-width="0.9"/>
<line x1="295.25" y1="504.9" x2="295.25" y2="508.9" stroke="#000" stroke-width="1.2"/>
<line x1="300.48" y1="504.9" x2="300.48" y2="507.29999999999995" stroke="#000" stroke-width="0.9"/>
<line x1="303.54" y1="504.9" x2="303.54" y2="507.29999999999995" stroke="#000" stroke-width="0.9"/>
<line x1="305.71" y1="504.9" x2="305.71" y2="507.29999999999995" stroke="#000" stroke-width="0.9"/>
<line x1="307.39" y1="504.9" x2="307.39" y2="507.29999999999995" stroke="#000" stroke-width="0.9"/>
<line x1="308.77" y1="504.9" x2="308.77" y2="507.29999999999995" stroke="#000" stroke-width="0.9"/>
<line x1="309.93" y1="504.9" x2="309.93" y2="507.29999999999995" stroke="#000" stroke-width="0.9"/>
<line x1="310.94" y1="504.9" x2="310.94" y2="507.29999999999995" stroke="#000" stroke-width="0.9"/>
<line x1="311.83" y1="504.9" x2="311.83" y2="507.29999999999995" stroke="#000" stroke-width="0.9"/>
<line x1="312.62" y1="504.9" x2="312.62" y2="508.9" stroke="#000" stroke-width="1.2"/>
<line x1="317.86" y1="504.9" x2="317.86" y2="507.29999999999995" stroke="#000" stroke-width="0.9"/>
<line x1="320.91" y1="504.9" x2="320.91" y2="507.29999999999995" stroke="#000" stroke-width="0.9"/>
<line x1="323.09" y1="504.9" x2="323.09" y2="507.29999999999995" stroke="#000" stroke-width="0.9"/>
<line x1="324.77" y1="504.9" x2="324.77" y2="507.29999999999995" stroke="#000" stroke-width="0.9"/>
<line x1="326.15" y1="504.9" x2="326.15" y2="507.29999999999995" stroke="#000" stroke-width="0.9"/>
<line x1="327.31" y1="504.9" x2="327.31" y2="507.29999999999995" stroke="#000" stroke-width="0.9"/>
<line x1="328.32" y1="504.9" x2="328.32" y2="507.29999999999995" stroke="#000" stroke-width="0.9"/>
<line x1="329.20" y1="504.9" x2="329.20" y2="507.29999999999995" stroke="#000" stroke-width="0.9"/>
<line x1="330.00" y1="504.9" x2="330.00" y2="508.9" stroke="#000" stroke-width="1.2"/>
<text x="260.70" y="522.8" font-size="10.2" text-anchor="middle">10<tspan font-size="6.4" dy="-4.2">0</tspan></text>
<text x="278.07" y="522.8" font-size="10.2" text-anchor="middle">10<tspan font-size="6.4" dy="-4.2">1</tspan></text>
<text x="295.45" y="522.8" font-size="10.2" text-anchor="middle">10<tspan font-size="6.4" dy="-4.2">2</tspan></text>
<text x="312.82" y="522.8" font-size="10.2" text-anchor="middle">10<tspan font-size="6.4" dy="-4.2">3</tspan></text>
<text x="330.20" y="522.8" font-size="10.2" text-anchor="middle">10<tspan font-size="6.4" dy="-4.2">4</tspan></text>
<polyline points="370.20,504.50 379.10,502.00 383.30,497.10 386.10,483.20 388.10,459.70 390.20,445.90 392.30,438.90 393.70,440.30 394.70,444.50 395.80,456.90 397.40,472.20 399.20,487.40 401.30,497.10 404.80,502.00 409.60,503.30 419.50,504.50 437.20,504.50" fill="none" stroke="#8c0f36" stroke-width="1.45" stroke-linejoin="round"/>
<polyline points="369.20,504.50 377.10,501.20 381.20,490.20 383.30,472.20 385.40,450.00 386.80,441.70 387.70,438.90 388.80,444.50 390.20,459.70 391.60,480.50 393.00,494.30 395.10,501.20 399.20,503.30 408.20,504.50 437.20,504.50" fill="none" stroke="#283c66" stroke-width="1.45" stroke-linejoin="round"/>
<rect x="368.2" y="434.6" width="69.5" height="70.29999999999995" fill="none" stroke="#000" stroke-width="1.6"/>
<line x1="364.0" y1="504.90" x2="368.2" y2="504.90" stroke="#000" stroke-width="1.2"/>
<text x="359.50" y="508.10" font-size="10" text-anchor="end">0</text>
<line x1="366.0" y1="501.58" x2="368.2" y2="501.58" stroke="#000" stroke-width="1"/>
<line x1="366.0" y1="498.27" x2="368.2" y2="498.27" stroke="#000" stroke-width="1"/>
<line x1="366.0" y1="494.95" x2="368.2" y2="494.95" stroke="#000" stroke-width="1"/>
<line x1="364.0" y1="491.64" x2="368.2" y2="491.64" stroke="#000" stroke-width="1.2"/>
<text x="359.50" y="494.84" font-size="10" text-anchor="end">20</text>
<line x1="366.0" y1="488.32" x2="368.2" y2="488.32" stroke="#000" stroke-width="1"/>
<line x1="366.0" y1="485.01" x2="368.2" y2="485.01" stroke="#000" stroke-width="1"/>
<line x1="366.0" y1="481.69" x2="368.2" y2="481.69" stroke="#000" stroke-width="1"/>
<line x1="364.0" y1="478.38" x2="368.2" y2="478.38" stroke="#000" stroke-width="1.2"/>
<text x="359.50" y="481.58" font-size="10" text-anchor="end">40</text>
<line x1="366.0" y1="475.06" x2="368.2" y2="475.06" stroke="#000" stroke-width="1"/>
<line x1="366.0" y1="471.75" x2="368.2" y2="471.75" stroke="#000" stroke-width="1"/>
<line x1="366.0" y1="468.44" x2="368.2" y2="468.44" stroke="#000" stroke-width="1"/>
<line x1="364.0" y1="465.12" x2="368.2" y2="465.12" stroke="#000" stroke-width="1.2"/>
<text x="359.50" y="468.32" font-size="10" text-anchor="end">60</text>
<line x1="366.0" y1="461.81" x2="368.2" y2="461.81" stroke="#000" stroke-width="1"/>
<line x1="366.0" y1="458.49" x2="368.2" y2="458.49" stroke="#000" stroke-width="1"/>
<line x1="366.0" y1="455.18" x2="368.2" y2="455.18" stroke="#000" stroke-width="1"/>
<line x1="364.0" y1="451.86" x2="368.2" y2="451.86" stroke="#000" stroke-width="1.2"/>
<text x="359.50" y="455.06" font-size="10" text-anchor="end">80</text>
<line x1="366.0" y1="448.55" x2="368.2" y2="448.55" stroke="#000" stroke-width="1"/>
<line x1="366.0" y1="445.23" x2="368.2" y2="445.23" stroke="#000" stroke-width="1"/>
<line x1="366.0" y1="441.92" x2="368.2" y2="441.92" stroke="#000" stroke-width="1"/>
<line x1="364.0" y1="438.60" x2="368.2" y2="438.60" stroke="#000" stroke-width="1.2"/>
<text x="359.50" y="441.80" font-size="10" text-anchor="end">100</text>
<line x1="368.20" y1="504.9" x2="368.20" y2="508.9" stroke="#000" stroke-width="1.2"/>
<line x1="373.43" y1="504.9" x2="373.43" y2="507.29999999999995" stroke="#000" stroke-width="0.9"/>
<line x1="376.49" y1="504.9" x2="376.49" y2="507.29999999999995" stroke="#000" stroke-width="0.9"/>
<line x1="378.66" y1="504.9" x2="378.66" y2="507.29999999999995" stroke="#000" stroke-width="0.9"/>
<line x1="380.34" y1="504.9" x2="380.34" y2="507.29999999999995" stroke="#000" stroke-width="0.9"/>
<line x1="381.72" y1="504.9" x2="381.72" y2="507.29999999999995" stroke="#000" stroke-width="0.9"/>
<line x1="382.88" y1="504.9" x2="382.88" y2="507.29999999999995" stroke="#000" stroke-width="0.9"/>
<line x1="383.89" y1="504.9" x2="383.89" y2="507.29999999999995" stroke="#000" stroke-width="0.9"/>
<line x1="384.78" y1="504.9" x2="384.78" y2="507.29999999999995" stroke="#000" stroke-width="0.9"/>
<line x1="385.57" y1="504.9" x2="385.57" y2="508.9" stroke="#000" stroke-width="1.2"/>
<line x1="390.81" y1="504.9" x2="390.81" y2="507.29999999999995" stroke="#000" stroke-width="0.9"/>
<line x1="393.86" y1="504.9" x2="393.86" y2="507.29999999999995" stroke="#000" stroke-width="0.9"/>
<line x1="396.04" y1="504.9" x2="396.04" y2="507.29999999999995" stroke="#000" stroke-width="0.9"/>
<line x1="397.72" y1="504.9" x2="397.72" y2="507.29999999999995" stroke="#000" stroke-width="0.9"/>
<line x1="399.10" y1="504.9" x2="399.10" y2="507.29999999999995" stroke="#000" stroke-width="0.9"/>
<line x1="400.26" y1="504.9" x2="400.26" y2="507.29999999999995" stroke="#000" stroke-width="0.9"/>
<line x1="401.27" y1="504.9" x2="401.27" y2="507.29999999999995" stroke="#000" stroke-width="0.9"/>
<line x1="402.15" y1="504.9" x2="402.15" y2="507.29999999999995" stroke="#000" stroke-width="0.9"/>
<line x1="402.95" y1="504.9" x2="402.95" y2="508.9" stroke="#000" stroke-width="1.2"/>
<line x1="408.18" y1="504.9" x2="408.18" y2="507.29999999999995" stroke="#000" stroke-width="0.9"/>
<line x1="411.24" y1="504.9" x2="411.24" y2="507.29999999999995" stroke="#000" stroke-width="0.9"/>
<line x1="413.41" y1="504.9" x2="413.41" y2="507.29999999999995" stroke="#000" stroke-width="0.9"/>
<line x1="415.09" y1="504.9" x2="415.09" y2="507.29999999999995" stroke="#000" stroke-width="0.9"/>
<line x1="416.47" y1="504.9" x2="416.47" y2="507.29999999999995" stroke="#000" stroke-width="0.9"/>
<line x1="417.63" y1="504.9" x2="417.63" y2="507.29999999999995" stroke="#000" stroke-width="0.9"/>
<line x1="418.64" y1="504.9" x2="418.64" y2="507.29999999999995" stroke="#000" stroke-width="0.9"/>
<line x1="419.53" y1="504.9" x2="419.53" y2="507.29999999999995" stroke="#000" stroke-width="0.9"/>
<line x1="420.32" y1="504.9" x2="420.32" y2="508.9" stroke="#000" stroke-width="1.2"/>
<line x1="425.56" y1="504.9" x2="425.56" y2="507.29999999999995" stroke="#000" stroke-width="0.9"/>
<line x1="428.61" y1="504.9" x2="428.61" y2="507.29999999999995" stroke="#000" stroke-width="0.9"/>
<line x1="430.79" y1="504.9" x2="430.79" y2="507.29999999999995" stroke="#000" stroke-width="0.9"/>
<line x1="432.47" y1="504.9" x2="432.47" y2="507.29999999999995" stroke="#000" stroke-width="0.9"/>
<line x1="433.85" y1="504.9" x2="433.85" y2="507.29999999999995" stroke="#000" stroke-width="0.9"/>
<line x1="435.01" y1="504.9" x2="435.01" y2="507.29999999999995" stroke="#000" stroke-width="0.9"/>
<line x1="436.02" y1="504.9" x2="436.02" y2="507.29999999999995" stroke="#000" stroke-width="0.9"/>
<line x1="436.90" y1="504.9" x2="436.90" y2="507.29999999999995" stroke="#000" stroke-width="0.9"/>
<line x1="437.70" y1="504.9" x2="437.70" y2="508.9" stroke="#000" stroke-width="1.2"/>
<text x="368.40" y="522.8" font-size="10.2" text-anchor="middle">10<tspan font-size="6.4" dy="-4.2">0</tspan></text>
<text x="385.77" y="522.8" font-size="10.2" text-anchor="middle">10<tspan font-size="6.4" dy="-4.2">1</tspan></text>
<text x="403.15" y="522.8" font-size="10.2" text-anchor="middle">10<tspan font-size="6.4" dy="-4.2">2</tspan></text>
<text x="420.52" y="522.8" font-size="10.2" text-anchor="middle">10<tspan font-size="6.4" dy="-4.2">3</tspan></text>
<text x="437.90" y="522.8" font-size="10.2" text-anchor="middle">10<tspan font-size="6.4" dy="-4.2">4</tspan></text>
<text transform="translate(81.95,540.30) scale(0.86,1)" font-size="12.4" text-anchor="middle">MEC</text>
<text transform="translate(189.35,540.30) scale(0.86,1)" font-size="12.4" text-anchor="middle">MEC</text>
<text transform="translate(189.35,555.30) scale(0.86,1)" font-size="12.4" text-anchor="middle">DTX1-KD</text>
<text transform="translate(297.25,540.30) scale(0.86,1)" font-size="12.4" text-anchor="middle">MEC</text>
<text transform="translate(297.25,555.30) scale(0.86,1)" font-size="12.4" text-anchor="middle">DTX1-KD</text>
<text transform="translate(297.25,570.30) scale(0.912,1)" font-size="12.4" text-anchor="middle">+ ctrl vector</text>
<text transform="translate(404.95,540.30) scale(0.86,1)" font-size="12.4" text-anchor="middle">MEC</text>
<text transform="translate(404.95,555.30) scale(0.86,1)" font-size="12.4" text-anchor="middle">DTX1-KD</text>
<text transform="translate(404.95,570.30) scale(0.893,1)" font-size="12.4" text-anchor="middle">+ DTX1 vector</text>
<rect x="446.2" y="434.2" width="13" height="12.6" fill="#aa002d"/>
<rect x="446.2" y="451.1" width="13" height="12.8" fill="#2c4f88"/>
<text transform="translate(462.9,444) scale(1,0.9)" font-size="10">ILT3</text>
<text transform="translate(462.9,461) scale(1,0.9)" font-size="10">isotype ctrl</text>
<rect x="0.9" y="0.9" width="518.2" height="581.2" fill="none" stroke="#000" stroke-width="1.8"/>
</svg>
</body></html>
